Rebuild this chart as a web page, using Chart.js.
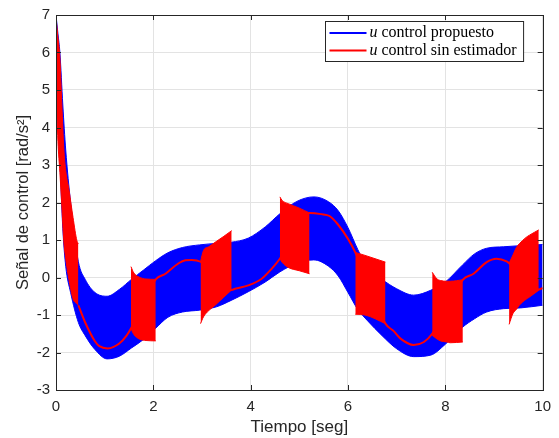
<!DOCTYPE html>
<html>
<head>
<meta charset="utf-8">
<script src="https://cdn.jsdelivr.net/npm/chart.js@4/dist/chart.umd.min.js"></script>
<style>
  body { margin: 0; background: #fff; }
</style>
</head>
<body>
<canvas id="u-control" width="559" height="438"></canvas>
<script>
// blue band: envelope of "u control propuesto" (fast oscillation fills the band)
const tBand = [0, 0.04, 0.08, 0.14, 0.2, 0.3, 0.46, 0.6, 0.8, 1.05,
  1.3, 1.55, 1.8, 2.05, 2.3, 2.6, 2.95, 3.3, 3.6, 3.95,
  4.3, 4.6, 4.95, 5.3, 5.6, 5.8, 6.0, 6.2, 6.4, 6.7,
  7.0, 7.35, 7.7, 8.0, 8.35, 8.6, 8.85, 9.2, 9.55, 10];
const bandUpper = [7.0, 6.5, 6.0, 4.6, 3.4, 2.0, 0.42, -0.05, -0.4, -0.5,
  -0.32, -0.05, 0.2, 0.45, 0.66, 0.8, 0.87, 0.91, 0.94, 1.05,
  1.35, 1.7, 2.03, 2.15, 2.02, 1.78, 1.33, 0.75, 0.27, -0.05,
  -0.3, -0.47, -0.34, -0.12, 0.33, 0.63, 0.78, 0.82, 0.85, 0.88];
const bandLower = [6.2, 4.2, 3.1, 1.3, 0.3, -0.4, -1.2, -1.55, -1.92, -2.17,
  -2.1, -1.88, -1.65, -1.35, -1.06, -0.92, -0.87, -0.78, -0.61, -0.38,
  -0.12, 0.15, 0.38, 0.47, 0.3, 0.04, -0.4, -0.85, -1.15, -1.55,
  -1.9, -2.11, -2.07, -1.78, -1.33, -1.1, -0.92, -0.83, -0.81, -0.74];

// red: "u control sin estimador" smooth part
const tRed = [0.46, 0.6, 0.8, 0.89, 1.06, 1.3, 1.45, 1.54, 2.05, 2.25,
  2.52, 2.66, 2.79, 2.97, 3.61, 3.68, 3.95, 4.22, 4.43, 4.6,
  5.21, 5.45, 5.62, 5.79, 6.0, 6.15, 6.77, 6.94, 7.08, 7.35,
  7.56, 7.73, 8.36, 8.58, 8.85, 9.05, 9.26, 9.31, 9.92, 10];
const redLine = [-0.74, -1.2, -1.7, -1.83, -1.89, -1.76, -1.55, -1.36, -0.05, 0.1,
  0.38, 0.46, 0.47, 0.42, -0.33, -0.3, -0.21, -0.04, 0.23, 0.5,
  1.72, 1.69, 1.64, 1.42, 1.03, 0.67, -1.23, -1.43, -1.63, -1.8,
  -1.72, -1.5, -0.06, 0.1, 0.41, 0.5, 0.43, 0.38, -0.32, -0.28];

// red chattering bursts: time, top and bottom of each
const burstT = [
  [0, 0.04, 0.08, 0.12, 0.16, 0.2, 0.27, 0.35, 0.43, 0.46],
  [1.54, 1.6, 1.71, 1.85, 2.05],
  [2.97, 3.03, 3.14, 3.27, 3.45, 3.61],
  [4.6, 4.65, 4.77, 5.0, 5.21],
  [6.15, 6.35, 6.77],
  [7.73, 7.83, 7.9, 8.03, 8.1, 8.36],
  [9.31, 9.39, 9.46, 9.52, 9.66, 9.73, 9.92]
];
const burstHi = [
  [6.93, 6.4, 5.85, 4.6, 3.45, 2.85, 2.31, 1.6, 0.98, 0.9],
  [0.29, 0.12, 0.01, -0.04, -0.05],
  [0.42, 0.72, 0.82, 0.94, 1.1, 1.25],
  [2.15, 2.05, 1.97, 1.85, 1.72],
  [0.67, 0.59, 0.41],
  [0.14, -0.04, -0.08, -0.1, -0.1, -0.06],
  [0.38, 0.6, 0.8, 0.9, 1.07, 1.13, 1.27]
];
const burstLo = [
  [5.2, 3.63, 2.8, 1.9, 0.98, 0.5, -0.08, -0.57, -0.7, -0.74],
  [-1.36, -1.52, -1.64, -1.68, -1.69],
  [-1.23, -1.05, -0.88, -0.74, -0.52, -0.33],
  [0.5, 0.4, 0.27, 0.18, 0.1],
  [-0.98, -1.0, -1.23],
  [-1.54, -1.64, -1.69, -1.72, -1.74, -1.72],
  [-1.25, -0.96, -0.85, -0.74, -0.58, -0.52, -0.34]
];

const xTicks = [0, 2, 4, 6, 8, 10];
const yTicks = [-3, -2, -1, 0, 1, 2, 3, 4, 5, 6, 7];
const legendLabels = ["control propuesto", "control sin estimador"];
const BLUE = "#0000ff";
const RED = "#ff0000";
const AXIS = "#262626";

const pts = (t, v) => t.map((x, i) => ({ x: x, y: v[i] }));

const datasets = [];
datasets.push({
  data: pts(tRed, redLine),
  borderColor: RED,
  borderWidth: 2,
  fill: false,
});
burstT.forEach((t, k) => {
  const lo = datasets.length + 1;
  datasets.push({
    data: pts(t, burstHi[k]),
    borderColor: RED,
    backgroundColor: RED,
    borderWidth: 1,
    fill: lo,
  });
  datasets.push({
    data: pts(t, burstLo[k]),
    borderColor: RED,
    borderWidth: 1,
    fill: false,
  });
});
const blueLo = datasets.length + 1;
datasets.push({
  data: pts(tBand, bandUpper),
  borderColor: BLUE,
  backgroundColor: BLUE,
  borderWidth: 1,
  fill: blueLo,
});
datasets.push({
  data: pts(tBand, bandLower),
  borderColor: BLUE,
  borderWidth: 1,
  fill: false,
});

// MATLAB-like box, inward ticks and legend
const matlabFrame = {
  id: "matlabFrame",
  afterDraw(chart) {
    const { ctx, chartArea: a } = chart;
    const xs = chart.scales.x;
    const ys = chart.scales.y;
    ctx.save();
    ctx.strokeStyle = AXIS;
    ctx.lineWidth = 1;
    ctx.beginPath();
    xTicks.forEach((v) => {
      const px = Math.round(xs.getPixelForValue(v)) + 0.5;
      ctx.moveTo(px, a.bottom);
      ctx.lineTo(px, a.bottom - 5);
      ctx.moveTo(px, a.top);
      ctx.lineTo(px, a.top + 5);
    });
    yTicks.forEach((v) => {
      const py = Math.round(ys.getPixelForValue(v)) + 0.5;
      ctx.moveTo(a.left, py);
      ctx.lineTo(a.left + 5, py);
      ctx.moveTo(a.right, py);
      ctx.lineTo(a.right - 5, py);
    });
    ctx.stroke();
    ctx.strokeRect(Math.round(a.left) + 0.5, Math.round(a.top) + 0.5,
      Math.round(a.right - a.left), Math.round(a.bottom - a.top));

    // legend
    const fs = 16;
    const italic = "italic " + fs + "px 'Liberation Serif', serif";
    const normal = fs + "px 'Liberation Serif', serif";
    ctx.font = italic;
    const uw = ctx.measureText("u ").width;
    ctx.font = normal;
    const tw = Math.max(...legendLabels.map((s) => ctx.measureText(s).width));
    const lineLen = 37;
    const w = 4 + lineLen + 3 + uw + tw + 7;
    const h = 40;
    const bx = Math.round(a.right - 20 - w) + 0.5;
    const by = Math.round(a.top + 6) + 0.5;
    ctx.fillStyle = "#fff";
    ctx.fillRect(bx, by, w, h);
    ctx.strokeStyle = AXIS;
    ctx.strokeRect(bx, by, w, h);
    [BLUE, RED].forEach((c, i) => {
      const yy = by + 11.5 + i * 17.5;
      ctx.strokeStyle = c;
      ctx.lineWidth = 2;
      ctx.beginPath();
      ctx.moveTo(bx + 4, yy);
      ctx.lineTo(bx + 4 + lineLen, yy);
      ctx.stroke();
      ctx.fillStyle = "#000";
      ctx.textBaseline = "middle";
      ctx.textAlign = "left";
      ctx.font = italic;
      ctx.fillText("u", bx + 4 + lineLen + 3, yy);
      ctx.font = normal;
      ctx.fillText(legendLabels[i], bx + 4 + lineLen + 3 + uw, yy);
    });
    ctx.restore();
  },
};

Chart.defaults.font.family = "'Liberation Sans', Arial, sans-serif";
Chart.defaults.color = AXIS;

new Chart(document.getElementById("u-control"), {
  type: "line",
  data: { datasets: datasets },
  options: {
    responsive: false,
    animation: false,
    events: [],
    layout: { padding: { top: 14, right: 12.5, left: 0, bottom: 0 } },
    elements: {
      point: { radius: 0 },
      line: { cubicInterpolationMode: "monotone" },
    },
    plugins: {
      legend: { display: false },
      tooltip: { enabled: false },
      filler: { drawTime: "beforeDatasetDraw" },
    },
    scales: {
      x: {
        type: "linear",
        min: 0,
        max: 10,
        afterBuildTicks: (s) => { s.ticks = xTicks.map((v) => ({ value: v })); },
        afterFit: (s) => { s.height = 48; },
        grid: { color: "#e3e3e3", drawTicks: false },
        border: { display: false },
        ticks: { padding: 8, font: { size: 15 }, maxRotation: 0 },
        title: {
          display: true,
          text: "Tiempo [seg]",
          font: { size: 17 },
          padding: { top: 0, bottom: 0 },
        },
      },
      y: {
        min: -3,
        max: 7,
        afterBuildTicks: (s) => { s.ticks = yTicks.map((v) => ({ value: v })); },
        afterFit: (s) => { s.width = 56; },
        grid: { color: "#e3e3e3", drawTicks: false },
        border: { display: false },
        ticks: { padding: 6, font: { size: 15 } },
        title: {
          display: true,
          text: "Señal de control [rad/s²]",
          font: { size: 16.5 },
          padding: { top: 14, bottom: 0 },
        },
      },
    },
  },
  plugins: [matlabFrame],
});
</script>
</body>
</html>
